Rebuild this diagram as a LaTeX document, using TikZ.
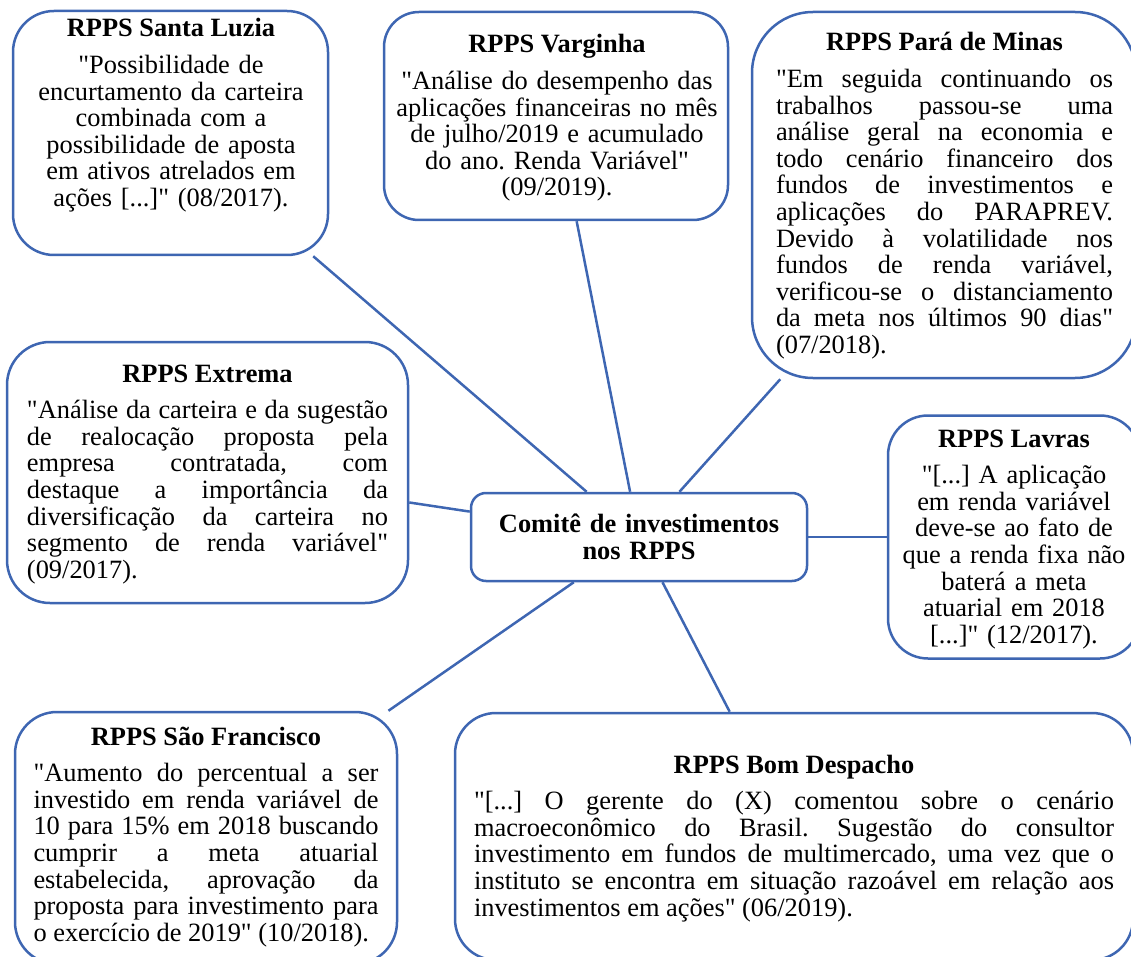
\documentclass[tikz,border=0pt]{standalone}
\usepackage{fontspec}
\setmainfont{Liberation Serif}[Ligatures=TeXOff]
\usepackage{xcolor}
\definecolor{mmblue}{RGB}{62,102,178}
\usepackage{tikz}
\usetikzlibrary{positioning}
\newcommand{\mmfont}{\fontsize{26.4}{26.6}\selectfont}
\frenchspacing
\hyphenpenalty=10000
\exhyphenpenalty=10000
\hbadness=10000
\tikzset{
  mm_box/.style={rectangle,
    draw=mmblue,line width=2.5pt,fill=white,
    inner sep=0pt},
  mm_hub/.style={rectangle,rounded corners=15pt,
    draw=mmblue,line width=2.5pt,fill=white,
    minimum width=336pt,minimum height=88pt,
    text width=330pt,align=center,
    font=\mmfont\bfseries,inner sep=0pt},
  mm_title/.style={anchor=base,font=\mmfont\bfseries,inner sep=0pt},
  mm_body/.style={align=justify,font=\mmfont,inner sep=0pt},
  mm_cbody/.style={align=center,font=\mmfont,inner sep=0pt},
  link/.style={draw=mmblue,line width=2.5pt},
}

\begin{document}
\begin{tikzpicture}[x=1pt,y=-1pt]
  \useasboundingbox (0,0) rectangle (1131,957);
  % frames
  \node (luzia) [mm_box,rounded corners=41pt,
    minimum width=315pt,minimum height=244pt] at (170.5,133) {};
  \node (varginha) [mm_box,rounded corners=35pt,
    minimum width=344pt,minimum height=208pt] at (556,116) {};
  \node (para) [mm_box,rounded corners=61pt,
    minimum width=384pt,minimum height=366pt] at (944,195) {};
  \node (extrema) [mm_box,rounded corners=43pt,
    minimum width=401pt,minimum height=261pt] at (207.5,472.5) {};
  \node (lavras) [mm_box,rounded corners=40pt,
    minimum width=252pt,minimum height=243pt] at (1014,537) {};
  \node (saofran) [mm_box,rounded corners=42pt,
    minimum width=382pt,minimum height=252pt] at (206,838) {};
  \node (bomdesp) [mm_box,rounded corners=41pt,
    minimum width=678pt,minimum height=247pt] at (794,836.5) {};
  \node (hub) [mm_hub] at (639,537) {Comitê de investimentos\\ nos RPPS};

  \foreach \b in {luzia,varginha,para,extrema,lavras,saofran,bomdesp}
    \draw[link] (hub) -- (\b);

  % Santa Luzia
  \node (luzia_t) [mm_title] at (171,37) {RPPS Santa Luzia};
  \node (luzia_q) [mm_cbody,text width=300pt,
    below=36.6pt of luzia_t.base,anchor=base]
    {"Possibilidade de\\ encurtamento da carteira\\ combinada com a\\
     possibilidade de aposta\\ em ativos atrelados em\\ ações [...]" (08/2017).};
  % Varginha
  \node (varginha_t) [mm_title] at (557,53) {RPPS Varginha};
  \node (varginha_q) [mm_cbody,text width=340pt,
    below=36.6pt of varginha_t.base,anchor=base]
    {"Análise do desempenho das\\ aplicações financeiras no mês\\
     de julho/2019 e acumulado\\ do ano. Renda Variável"\\ (09/2019).};
  % Pará de Minas
  \node (para_t) [mm_title] at (944.5,51) {RPPS Pará de Minas};
  \node (para_q) [mm_body,text width=337pt,
    below=36.6pt of para_t.base,anchor=base]
    {"Em seguida continuando os\linebreak trabalhos passou-se uma\linebreak
     análise geral na economia e\linebreak todo cenário financeiro dos\linebreak
     fundos de investimentos e\linebreak aplicações do PARAPREV.\linebreak
     Devido à volatilidade nos\linebreak fundos de renda variável,\linebreak
     verificou-se o distanciamento\linebreak da meta nos últimos 90 dias"\linebreak
     (07/2018).};
  % Extrema
  \node (extrema_t) [mm_title] at (207.5,382) {RPPS Extrema};
  \node (extrema_q) [mm_body,text width=361pt,
    below=36.6pt of extrema_t.base,anchor=base]
    {"Análise da carteira e da sugestão\linebreak de realocação proposta pela\linebreak
     empresa contratada, com\linebreak destaque a importância da\linebreak
     diversificação da carteira no\linebreak segmento de renda variável"\linebreak
     (09/2017).};
  % Lavras
  \node (lavras_t) [mm_title] at (1014,447) {RPPS Lavras};
  \node (lavras_q) [mm_cbody,text width=240pt,
    below=36.6pt of lavras_t.base,anchor=base]
    {"[...] A aplicação\\ em renda variável\\ deve-se ao fato de\\
     que a renda fixa não\\ baterá a meta\\ atuarial em 2018\\ {[}...]" (12/2017).};
  % São Francisco
  \node (saofran_t) [mm_title] at (206,745) {RPPS São Francisco};
  \node (saofran_q) [mm_body,text width=345pt,
    below=36.6pt of saofran_t.base,anchor=base]
    {"Aumento do percentual a ser\linebreak investido em renda variável de\linebreak
     10 para 15\% em 2018 buscando\linebreak cumprir a meta atuarial\linebreak
     estabelecida, aprovação da\linebreak proposta para investimento para\linebreak
     o exercício de 2019" (10/2018).};
  % Bom Despacho
  \node (bomdesp_t) [mm_title] at (794,773) {RPPS Bom Despacho};
  \node (bomdesp_q) [mm_body,text width=640pt,
    below=36.6pt of bomdesp_t.base,anchor=base]
    {"[...] O gerente do (X) comentou sobre o cenário\linebreak
     macroeconômico do Brasil. Sugestão do consultor\linebreak
     investimento em fundos de multimercado, uma vez que o\linebreak
     instituto se encontra em situação razoável em relação aos\linebreak
     investimentos em ações" (06/2019).};
\end{tikzpicture}
\end{document}
